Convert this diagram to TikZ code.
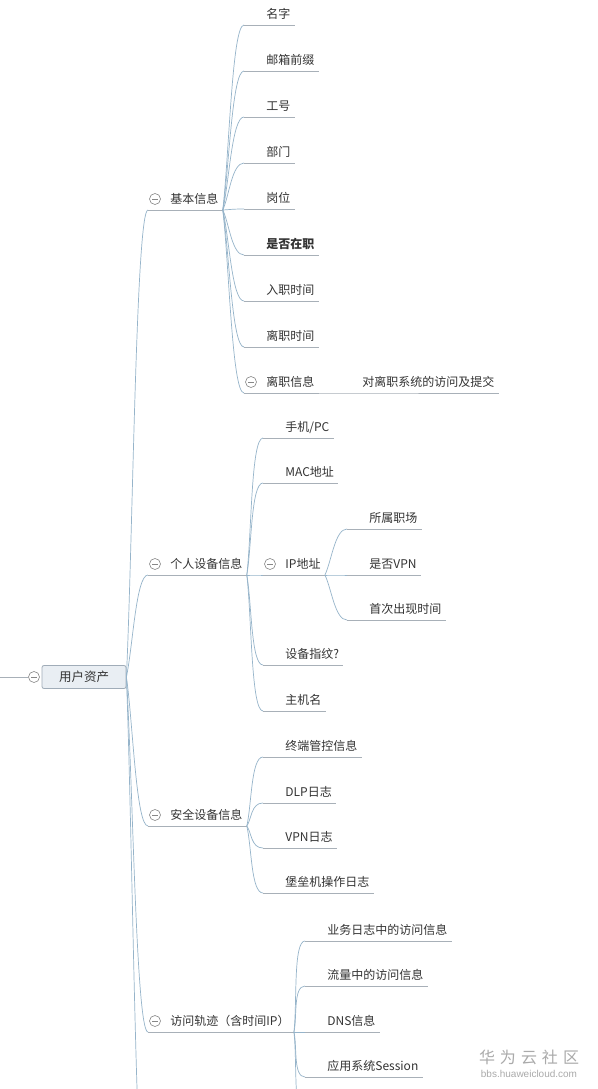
\documentclass[tikz,border=0pt]{standalone}
\usepackage{fontspec}
\setmainfont{Noto Sans CJK SC}
\setsansfont{Liberation Sans}
\usetikzlibrary{calc}

\definecolor{txtgrey}{RGB}{51,51,51}
\definecolor{curveblue}{RGB}{150,180,202}
\definecolor{ulinegrey}{RGB}{168,176,184}
\definecolor{foldgrey}{RGB}{135,135,135}
\definecolor{rootfill}{RGB}{233,238,243}
\definecolor{rootdraw}{RGB}{160,172,184}
\definecolor{wmgrey}{RGB}{170,170,170}

\tikzset{every picture/.style={line width=0.8pt}}
\tikzset{
  topic/.style={anchor=south west, inner xsep=0pt, inner ysep=4pt, text=txtgrey,
    font=\fontsize{12}{14}\selectfont, text height=9pt, text depth=2pt,
    execute at begin node=\hspace*{22pt}, execute at end node=\hspace*{4pt}},
  rootbox/.style={draw=rootdraw, fill=rootfill, rounded corners=2pt, text=txtgrey,
    font=\fontsize{12.5}{14}\selectfont, minimum width=84pt, minimum height=23pt},
  fold/.style={circle, draw=foldgrey, fill=white, line width=0.6pt, minimum size=11pt, inner sep=0pt,
    path picture={\draw[foldgrey, line width=0.6pt]
      ($(path picture bounding box.west)+(2.5,0)$) -- ($(path picture bounding box.east)+(-2.5,0)$);}},
  branch/.style={draw=curveblue, line width=0.7pt,
    to path={.. controls ($(\tikztostart)!0.3!(\tikztotarget)$) and ([xshift=-12pt]\tikztotarget) .. (\tikztotarget)}},
  uline/.style={draw=ulinegrey, line width=0.7pt},
  wmtext/.style={text=wmgrey, inner sep=0pt}
}

\begin{document}
\begin{tikzpicture}[x=1pt,y=1pt,yscale=-1]
\useasboundingbox (0,0) rectangle (597,1089);
\clip (0,0) rectangle (597,1089);
\fill[white] (0,0) rectangle (597,1089);

%Root
\node[rootbox] (root) at (84,677) {用户资产};
\node[fold] (root-f) at (34,677) {};
\coordinate (root-in) at (-10,677);
\draw[uline] (root-in) -- (root-f);

%Level 1
\node[topic] (jb) at (148,210) {基本信息};
\node[topic] (gr) at (148,575) {个人设备信息};
\node[topic] (aq) at (148,826) {安全设备信息};
\node[topic] (fw) at (148,1032) {访问轨迹（含时间IP）};
\coordinate (root-more) at (148,1240);
\foreach \n in {jb,gr,aq,fw} {
  \draw[branch] (root.east) to (\n.south west);
  \draw[uline] (\n.south west) -- (\n.south east);
}
\draw[branch] (root.east) to (root-more);

%基本信息
\foreach \t [count=\i from 0] in {名字,邮箱前缀,工号,部门,岗位,\textbf{是否在职},入职时间,离职时间,离职信息} {
  \node[topic] (jb\i) at (244,25+46*\i) {\t};
  \draw[branch] (jb.south east) to (jb\i.south west);
  \draw[uline] (jb\i.south west) -- (jb\i.south east);
}
\node[topic] (lz) at (340,393) {对离职系统的访问及提交};
\draw[uline] (jb8.south east) -- (lz.south west) -- (lz.south east);

%个人设备信息
\foreach \t/\y [count=\i from 0] in {{手机/PC}/438, MAC地址/483, IP地址/575, 设备指纹?/665, 主机名/711} {
  \node[topic] (gr\i) at (263,\y) {\t};
  \draw[branch] (gr.south east) to (gr\i.south west);
  \draw[uline] (gr\i.south west) -- (gr\i.south east);
}
\foreach \t/\y [count=\i from 0] in {所属职场/529, 是否VPN/575, 首次出现时间/620} {
  \node[topic] (ip\i) at (347,\y) {\t};
  \draw[branch] (gr2.south east) to (ip\i.south west);
  \draw[uline] (ip\i.south west) -- (ip\i.south east);
}

%安全设备信息
\foreach \t/\y [count=\i from 0] in {终端管控信息/757, DLP日志/803, VPN日志/848, 堡垒机操作日志/893} {
  \node[topic] (aq\i) at (263,\y) {\t};
  \draw[branch] (aq.south east) to (aq\i.south west);
  \draw[uline] (aq\i.south west) -- (aq\i.south east);
}

%访问轨迹
\foreach \t/\y [count=\i from 0] in {业务日志中的访问信息/941, 流量中的访问信息/986, DNS信息/1032, 应用系统Session/1077} {
  \node[topic] (fw\i) at (305,\y) {\t};
  \draw[branch] (fw.south east) to (fw\i.south west);
  \draw[uline] (fw\i.south west) -- (fw\i.south east);
}
\coordinate (fw-more) at (305,1122);
\draw[branch] (fw.south east) to (fw-more);

%Fold icons
\foreach \n in {jb,gr,aq,fw,jb8,gr2}
  \node[fold] (\n-f) at ($(\n.south west)+(7,-11)$) {};

% Text Node
\node[wmtext, font=\fontsize{16}{18}\selectfont] (wm1) at (529,1057) {华\hspace{5pt}为\hspace{5pt}云\hspace{5pt}社\hspace{5pt}区};
\node[wmtext, font=\sffamily\fontsize{10}{12}\selectfont] (wm2) at (529,1074) {bbs.huaweicloud.com};

\end{tikzpicture}
\end{document}
